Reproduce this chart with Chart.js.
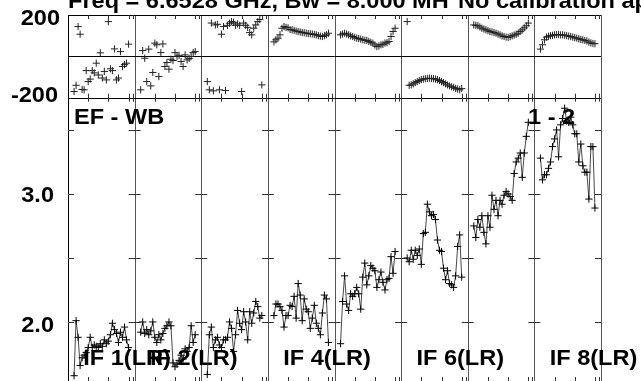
<!DOCTYPE html>
<html>
<head>
<meta charset="utf-8">
<script src="https://cdn.jsdelivr.net/npm/chart.js@4.4.0/dist/chart.umd.min.js"></script>
<style>
html, body { margin: 0; padding: 0; background: #fff; overflow: hidden; }
canvas { display: block; }
</style>
</head>
<body>
<canvas id="possm" width="641" height="390"></canvas>
<script>
// channels plotted in every IF (32 channels, edges flagged)
var channels = [3,4,5,6,7,8,9,10,11,12,13,14,15,16,17,18,19,20,21,22,23,24,25,26,27,28,29,30];
var chanPerIF = 33;
var ifNames = ['IF 1(LR)', 'IF 2(LR)', 'IF 3(LR)', 'IF 4(LR)', 'IF 5(LR)', 'IF 6(LR)', 'IF 7(LR)', 'IF 8(LR)'];
var shownIF = [0, 1, 3, 5, 7];

// phase (degrees) per IF
var ph1 = [-170, -140, 144, 107, -160, -162, -69, -122, -110, -69, -80, -33, -90, 17, -105, -73, -114, 168, -60, -69, 36, -114, -105, 23, -49, -40, -33, 59];
var ph2 = [-162, 28, -9, -122, 35, -143, -78, 64, 56, -98, 18, 60, -49, -30, -62, -14, -20, 18, -1, 5, -25, -49, 7, -17, -10, -1, 18, 23];
var ph3 = [-122, -162, 161, -167, 152, 155, -162, 107, 144, -165, 150, 160, 168, 165, 150, 157, 150, -170, 161, 150, 140, 115, 104, 136, 152, 168, 178, -138];
var ph4 = [70, 80, 88, 104, 136, 144, 140, 138, 130, 128, 126, 122, 120, 118, 115, 114, 112, 110, 109, 108, 106, 104, 100, 98, 96, 100, 104, 112];
var ph5 = [104, 108, 112, 108, 104, 99, 96, 92, 88, 86, 83, 80, 78, 77, 72, 68, 64, 55, 47, 50, 56, 58, 64, 66, 72, 96, 120, 136];
var ph6 = [168, -140, -138, -133, -127, -122, -117, -113, -110, -108, -107, -106, -107, -108, -110, -113, -117, -122, -127, -133, -138, -143, -147, -150, -155, -158, -162, -156];
var ph7 = [152, 150, 148, 142, 136, 132, 128, 124, 120, 118, 115, 112, 108, 104, 99, 96, 93, 92, 95, 99, 103, 107, 112, 120, 128, 138, 148, 161];
var ph8 = [35, 56, 80, 93, 97, 100, 102, 104, 105, 105, 104, 104, 102, 100, 98, 96, 93, 90, 88, 85, 82, 80, 77, 74, 69, 65, 62, 61];

// amplitude per IF
var amp1 = [1.58, 2.01, 1.88, 1.66, 1.72, 1.74, 1.76, 1.80, 1.88, 1.80, 1.82, 1.81, 1.80, 1.83, 1.81, 1.86, 1.83, 1.85, 1.90, 1.99, 1.94, 1.91, 1.84, 1.92, 1.88, 1.96, 1.86, 1.80];
var amp2 = [1.92, 2.00, 1.91, 1.94, 1.90, 1.93, 2.00, 1.88, 1.84, 1.90, 1.86, 1.91, 1.95, 1.97, 2.00, 1.97, 1.68, 1.65, 1.67, 1.70, 1.74, 1.71, 1.79, 1.77, 1.80, 1.97, 1.84, 1.90];
var amp3 = [1.59, 1.90, 1.96, 1.80, 1.86, 1.88, 1.82, 1.80, 1.86, 1.86, 1.88, 2.00, 1.95, 1.77, 1.90, 2.09, 1.99, 1.94, 2.08, 2.00, 1.86, 2.08, 1.99, 2.07, 2.16, 2.12, 2.03, 2.05];
var amp4 = [2.05, 2.14, 2.14, 2.12, 2.09, 1.96, 2.05, 2.05, 2.13, 2.12, 2.20, 2.03, 2.30, 2.21, 2.01, 2.18, 2.10, 2.08, 1.95, 2.03, 2.13, 1.99, 1.95, 1.90, 2.07, 2.21, 2.18, 1.84];
var amp5 = [1.83, 2.16, 2.36, 2.14, 2.09, 2.22, 2.20, 2.22, 2.27, 2.22, 2.10, 2.35, 2.46, 2.29, 2.36, 2.44, 2.42, 2.40, 2.27, 2.33, 2.39, 2.31, 2.25, 2.33, 2.34, 2.51, 2.38, 2.55];
var amp6 = [2.50, 2.47, 2.56, 2.49, 2.56, 2.52, 2.57, 2.45, 2.69, 2.70, 2.92, 2.86, 2.83, 2.84, 2.80, 2.64, 2.56, 2.55, 2.42, 2.33, 2.40, 2.30, 2.29, 2.27, 2.36, 2.59, 2.68, 2.35];
var amp7 = [2.75, 2.66, 2.80, 2.74, 2.83, 2.70, 2.61, 2.83, 2.74, 2.99, 2.88, 2.95, 2.83, 2.95, 2.92, 2.99, 3.02, 3.00, 2.98, 2.95, 3.16, 3.25, 3.28, 3.32, 3.13, 3.32, 3.45, 3.56];
var amp8 = [3.28, 3.11, 3.15, 3.15, 3.20, 3.25, 3.37, 3.43, 3.50, 3.29, 3.54, 3.59, 3.67, 3.57, 3.56, 3.60, 3.54, 3.47, 3.47, 3.25, 3.39, 3.22, 3.17, 3.17, 2.96, 3.37, 3.37, 2.89];

var phTicks = [200, -200];
var ampTicks = [2.0, 2.5, 3.0, 3.5];
var ampLabels = ['2.0', '3.0'];
var chanTicks = [10, 20, 30, 32];

var phases = [ph1, ph2, ph3, ph4, ph5, ph6, ph7, ph8];
var amps = [amp1, amp2, amp3, amp4, amp5, amp6, amp7, amp8];

// build points, a null between IFs so the line breaks
var ampPoints = [];
var phPoints = [];
for (var i = 0; i < 8; i++) {
    for (var j = 0; j < channels.length; j++) {
        var xx = i * chanPerIF + channels[j];
        ampPoints.push({ x: xx, y: amps[i][j] });
        phPoints.push({ x: xx, y: phases[i][j] });
    }
    ampPoints.push({ x: i * chanPerIF + 31.5, y: null });
}

var FONT = 'bold 22px "Liberation Sans", Arial, sans-serif';

function stretchText(ctx, text, x, y, align) {
    ctx.save();
    ctx.translate(x, y);
    ctx.scale(1.07, 1);
    ctx.textAlign = align || 'left';
    ctx.textBaseline = 'alphabetic';
    ctx.fillText(text, 0, 0);
    ctx.restore();
}

function line(ctx, x1, y1, x2, y2) {
    ctx.beginPath();
    ctx.moveTo(x1, y1);
    ctx.lineTo(x2, y2);
    ctx.stroke();
}

var framePlugin = {
    id: 'frame',
    beforeDatasetsDraw: function(chart) {
        var ctx = chart.ctx;
        var xs = chart.scales.x, yp = chart.scales.yPh, ya = chart.scales.yAmp;
        var left = chart.chartArea.left, right = chart.chartArea.right;
        var top = yp.getPixelForValue(200), zero = yp.getPixelForValue(0);
        var mid = yp.getPixelForValue(-200), bottom = ya.getPixelForValue(ya.min);

        ctx.save();
        ctx.lineWidth = 1;

        // panel separators
        ctx.strokeStyle = '#555';
        for (var i = 1; i <= 8; i++) {
            var px = Math.round(xs.getPixelForValue(i * chanPerIF)) + 0.5;
            line(ctx, px, top, px, bottom);
        }
        ctx.strokeStyle = '#000';
        line(ctx, left + 0.5, top, left + 0.5, bottom);
        line(ctx, left, Math.round(top) + 0.5, right, Math.round(top) + 0.5);
        line(ctx, left, Math.round(zero) + 0.5, right, Math.round(zero) + 0.5);
        line(ctx, left, Math.round(mid) + 0.5, right, Math.round(mid) + 0.5);

        // channel ticks
        ctx.strokeStyle = '#333';
        for (var k = 0; k < 8; k++) {
            chanTicks.forEach(function(t) {
                var tx = Math.round(xs.getPixelForValue(k * chanPerIF + t)) + 0.5;
                line(ctx, tx, top, tx, top + 4);
                line(ctx, tx, mid - 4, tx, mid + 4);
                line(ctx, tx, bottom - 6, tx, bottom);
            });
        }
        // amplitude ticks on every panel edge
        for (var e = 0; e <= 8; e++) {
            var ex = xs.getPixelForValue(e * chanPerIF);
            ampTicks.forEach(function(v) {
                var ty = Math.round(ya.getPixelForValue(v)) + 0.5;
                var a = e === 0 ? ex : ex - 6;
                var b = e === 8 ? ex : ex + 6;
                line(ctx, a, ty, b, ty);
            });
        }

        // text
        ctx.fillStyle = '#000';
        ctx.font = FONT;
        stretchText(ctx, 'Freq = 6.6528 GHz, Bw = 8.000 MH', 68, 8);
        stretchText(ctx, 'No calibration applied', 458, 8);
        stretchText(ctx, String(phTicks[0]), 60, top + 10, 'right');
        stretchText(ctx, String(phTicks[1]), 58, mid + 4.5, 'right');
        stretchText(ctx, ampLabels[0], 54, ya.getPixelForValue(2.0) + 10, 'right');
        stretchText(ctx, ampLabels[1], 54, ya.getPixelForValue(3.0) + 8, 'right');
        stretchText(ctx, 'EF - WB', 74, 124);
        stretchText(ctx, '1 - 2', 528, 124);
        shownIF.forEach(function(n) {
            stretchText(ctx, ifNames[n], xs.getPixelForValue(n * chanPerIF) + 15.3, 365);
        });
        ctx.restore();
    }
};

new Chart(document.getElementById('possm').getContext('2d'), {
    type: 'scatter',
    data: {
        datasets: [{
            data: ampPoints,
            yAxisID: 'yAmp',
            showLine: true,
            spanGaps: false,
            borderColor: '#333',
            borderWidth: 0.9,
            pointStyle: 'cross',
            pointRadius: 3.6,
            pointBorderColor: '#000',
            pointBorderWidth: 1,
            pointBackgroundColor: '#000'
        }, {
            data: phPoints,
            yAxisID: 'yPh',
            showLine: false,
            pointStyle: 'cross',
            pointRadius: 3.6,
            pointBorderColor: '#222',
            pointBorderWidth: 1,
            pointBackgroundColor: '#000'
        }]
    },
    options: {
        responsive: false,
        animation: false,
        events: [],
        layout: { padding: { left: 68, right: 40, top: 15, bottom: 7 } },
        plugins: { legend: { display: false }, tooltip: { enabled: false } },
        scales: {
            x: { type: 'linear', min: 0, max: 8 * chanPerIF, display: false },
            // stacked panels: amplitude listed first ends up at the bottom
            yAmp: { type: 'linear', position: 'left', stack: 'panels', stackWeight: 285.3, min: 1.523, max: 3.752, display: false },
            yPh: { type: 'linear', position: 'left', stack: 'panels', stackWeight: 82.7, min: -200, max: 200, display: false }
        }
    },
    plugins: [framePlugin]
});
</script>
</body>
</html>
